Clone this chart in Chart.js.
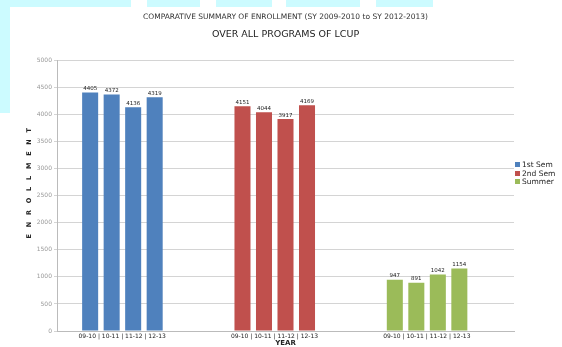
<!DOCTYPE html>
<html>
<head>
<meta charset="utf-8">
<script src="https://cdn.jsdelivr.net/npm/chart.js@4"></script>
<style>
  html, body { margin: 0; padding: 0; background: #fff; }
  #wrap { position: relative; width: 562px; height: 347px; overflow: hidden; }
  canvas { position: absolute; left: 0; top: 0; }
  .cyan { position: absolute; background: #ccfbff; }
  #legend { position: absolute; left: 515px; top: 161px; font: 7.5px "DejaVu Sans", sans-serif; color: #222; }
  #legend div { height: 8.7px; line-height: 8.7px; white-space: nowrap; }
  #legend span { display: inline-block; width: 5px; height: 5px; margin-right: 2px; vertical-align: 0px; }
</style>
</head>
<body>
<div id="wrap">
  <canvas id="chart" width="562" height="347"></canvas>
  <div id="legend"></div>
</div>
<script>
// categories (one per term) and the year of each bar inside a term group
const terms = ["1st Sem", "2nd Sem", "Summer"];
const years = ["09-10", "10-11", "11-12", "12-13"];
const termColors = ["#4f81bd", "#c0504d", "#9bbb59"];

// enrollment per term, one value per year
const firstSem = [4405, 4372, 4136, 4319];
const secondSem = [4151, 4044, 3917, 4169];
const summer = [947, 891, 1042, 1154];

const yTicks = [0, 500, 1000, 1500, 2000, 2500, 3000, 3500, 4000, 4500, 5000];

const termValues = [firstSem, secondSem, summer];
const xLabels = terms.map(() => years.join(" | "));

// scanner smudges along the top / left edge of the original
const smudges = [[0, 0, 131, 7], [147, 0, 53, 7], [216, 0, 56, 7], [286, 0, 74, 7], [376, 0, 57, 7], [0, 0, 10, 113]];
const wrap = document.getElementById("wrap");
smudges.forEach(s => {
  const d = document.createElement("div");
  d.className = "cyan";
  d.style.left = s[0] + "px"; d.style.top = s[1] + "px";
  d.style.width = s[2] + "px"; d.style.height = s[3] + "px";
  wrap.insertBefore(d, wrap.firstChild);
});

document.getElementById("legend").innerHTML = terms
  .map((t, i) => `<div><span style="background:${termColors[i]}"></span>${t}</div>`).join("");

const datasets = years.map((y, yi) => ({
  label: y,
  data: termValues.map(v => v[yi]),
  backgroundColor: termColors,
  barPercentage: 0.745,
  categoryPercentage: 0.706
}));
// empty slot after 12-13 so each group sits a bit left of its category centre (like the original)
datasets.push({ label: "", data: terms.map(() => null), barPercentage: 0.745, categoryPercentage: 0.706 });

const valueLabels = {
  id: "valueLabels",
  afterDatasetsDraw(chart) {
    const c = chart.ctx;
    c.save();
    c.font = "5.5px 'DejaVu Sans'";
    c.fillStyle = "#222";
    c.textAlign = "center";
    c.textBaseline = "bottom";
    chart.data.datasets.forEach((ds, i) => {
      chart.getDatasetMeta(i).data.forEach((bar, j) => {
        if (ds.data[j] == null) return;
        c.fillText(ds.data[j], bar.x, bar.y - 1);
      });
    });
    c.restore();
  }
};

new Chart(document.getElementById("chart"), {
  type: "bar",
  data: { labels: xLabels, datasets: datasets },
  plugins: [valueLabels],
  options: {
    responsive: false,
    animation: false,
    layout: { padding: { left: 25, right: 48, top: 0, bottom: 0 } },
    plugins: {
      legend: { display: false },
      tooltip: { enabled: false },
      title: {
        display: true,
        text: "COMPARATIVE SUMMARY OF ENROLLMENT (SY 2009-2010 to SY 2012-2013)",
        fullSize: false,
        color: "#333",
        font: { family: "DejaVu Sans", size: 7.5, weight: "normal" },
        padding: { top: 13, bottom: 7 }
      },
      subtitle: {
        display: true,
        text: "OVER ALL PROGRAMS OF LCUP",
        fullSize: false,
        color: "#222",
        font: { family: "DejaVu Sans", size: 9.5 },
        padding: { top: 0, bottom: 20 }
      }
    },
    scales: {
      x: {
        grid: { display: false, drawTicks: false, tickLength: 0 },
        border: { color: "#bbb" },
        ticks: { color: "#222", font: { family: "DejaVu Sans", size: 6 }, padding: 2, maxRotation: 0, autoSkip: false, labelOffset: -11 },
        title: { display: true, text: "YEAR", color: "#222", font: { family: "DejaVu Sans", size: 7, weight: "bold" }, padding: 0 },
        afterFit(s) { s.height = 16; }
      },
      y: {
        min: 0, max: 5000,
        afterBuildTicks(s) { s.ticks = yTicks.map(v => ({ value: v })); },
        grid: { color: "#d4d4d4", tickLength: 3 },
        border: { color: "#bbb" },
        ticks: { color: "#999", font: { family: "DejaVu Sans", size: 6 }, padding: 2, callback: v => String(v) },
        title: {
          display: true,
          // leading blanks nudge the spaced-out word up, as in the original
          text: "           E   N   R   O   L   L   M   E   N   T",
          color: "#222",
          font: { family: "DejaVu Sans", size: 6.5, weight: "bold" },
          padding: 0
        },
        afterFit(s) { s.width = 32; }
      }
    }
  }
});
</script>
</body>
</html>
